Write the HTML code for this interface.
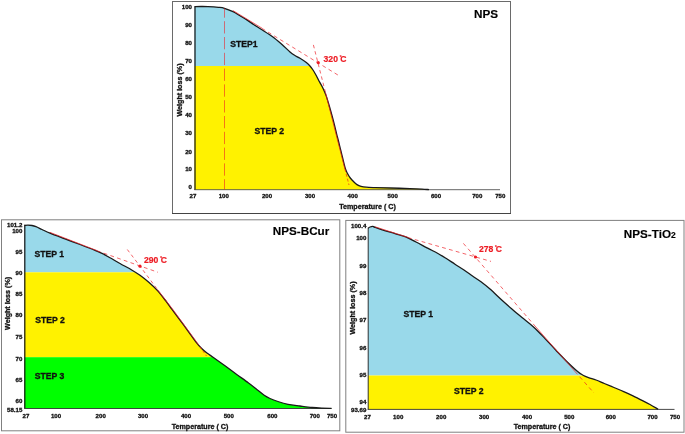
<!DOCTYPE html><html><head><meta charset="utf-8"><title>TGA</title>
<style>html,body{margin:0;padding:0;background:#fff}svg{display:block}text{font-family:"Liberation Sans",sans-serif;font-weight:bold;fill:#111;stroke:#111;stroke-width:.3px}.t{font-size:6.1px}.s{font-size:8.65px}.h{font-size:11.7px;fill:#000;stroke-width:.15px}.a{font-size:7.15px}.r{font-size:8.6px;fill:#ed1c24;stroke:#ed1c24;stroke-width:.2px}.e{text-anchor:end}.m{text-anchor:middle}</style></head><body>
<svg width="685" height="434" viewBox="0 0 685 434">
<rect width="685" height="434" fill="#fff"/>
<g fill="#fff" stroke="#808080" stroke-width="1">
<rect x="1.5" y="219.8" width="338.3" height="211"/>
<rect x="345.8" y="220.4" width="338.2" height="211.8"/>
<rect x="172.5" y="1.5" width="338" height="212" stroke="#6a6a6a"/>
</g>
<path d="M172,213.5H511" stroke="#444" stroke-width="1" fill="none"/>
<defs>
<clipPath id="k1"><path d="M194.50,6.60 C195.58,6.58 198.75,6.50 201.00,6.50 C203.25,6.50 205.10,6.47 208.00,6.60 C210.90,6.73 215.65,7.02 218.40,7.30 C221.15,7.58 222.07,7.57 224.50,8.30 C226.93,9.03 230.42,10.45 233.00,11.70 C235.58,12.95 237.57,14.35 240.00,15.80 C242.43,17.25 245.27,18.90 247.60,20.40 C249.93,21.90 251.60,23.23 254.00,24.80 C256.40,26.37 258.90,27.82 262.00,29.80 C265.10,31.78 269.27,34.25 272.60,36.70 C275.93,39.15 279.10,41.97 282.00,44.50 C284.90,47.03 287.90,50.10 290.00,51.90 C292.10,53.70 292.93,54.23 294.60,55.30 C296.27,56.37 298.10,57.13 300.00,58.30 C301.90,59.47 304.42,61.10 306.00,62.30 C307.58,63.50 308.33,64.22 309.50,65.50 C310.67,66.78 311.83,68.25 313.00,70.00 C314.17,71.75 315.58,74.33 316.50,76.00 C317.42,77.67 317.50,78.12 318.50,80.00 C319.50,81.88 321.22,84.65 322.50,87.30 C323.78,89.95 325.07,92.78 326.20,95.90 C327.33,99.02 328.15,102.03 329.30,106.00 C330.45,109.97 331.88,115.07 333.10,119.70 C334.32,124.33 335.75,130.42 336.60,133.80 C337.45,137.18 337.68,137.93 338.20,140.00 C338.72,142.07 339.17,144.07 339.70,146.20 C340.23,148.33 340.52,149.27 341.40,152.80 C342.28,156.33 343.98,163.95 345.00,167.40 C346.02,170.85 346.62,171.73 347.50,173.50 C348.38,175.27 349.22,176.58 350.30,178.00 C351.38,179.42 352.88,180.90 354.00,182.00 C355.12,183.10 355.83,183.88 357.00,184.60 C358.17,185.32 359.47,185.87 361.00,186.30 C362.53,186.73 363.87,186.98 366.20,187.20 C368.53,187.42 371.03,187.47 375.00,187.60 C378.97,187.73 384.17,187.83 390.00,188.00 C395.83,188.17 404.67,188.42 410.00,188.60 C415.33,188.78 418.83,188.93 422.00,189.10 C425.17,189.27 427.83,189.52 429.00,189.60 L429.00,190.00 L194.50,190.00 Z"/></clipPath>
<clipPath id="k2"><path d="M24.50,225.40 C25.08,225.37 26.75,225.18 28.00,225.20 C29.25,225.22 30.67,225.25 32.00,225.50 C33.33,225.75 34.33,226.03 36.00,226.70 C37.67,227.37 39.67,228.42 42.00,229.50 C44.33,230.58 46.17,231.63 50.00,233.20 C53.83,234.77 60.00,237.02 65.00,238.90 C70.00,240.78 75.00,242.60 80.00,244.50 C85.00,246.40 91.33,248.82 95.00,250.30 C98.67,251.78 99.50,252.17 102.00,253.40 C104.50,254.63 107.00,256.02 110.00,257.70 C113.00,259.38 116.32,261.42 120.00,263.50 C123.68,265.58 128.77,268.23 132.10,270.20 C135.43,272.17 137.22,273.28 140.00,275.30 C142.78,277.32 145.88,279.75 148.80,282.30 C151.72,284.85 154.58,287.38 157.50,290.60 C160.42,293.82 163.88,298.47 166.30,301.60 C168.72,304.73 169.22,305.63 172.00,309.40 C174.78,313.17 180.00,320.12 183.00,324.20 C186.00,328.28 187.87,330.97 190.00,333.90 C192.13,336.83 193.85,339.37 195.80,341.80 C197.75,344.23 199.83,346.63 201.70,348.50 C203.57,350.37 205.05,351.50 207.00,353.00 C208.95,354.50 210.40,355.37 213.40,357.50 C216.40,359.63 221.12,362.98 225.00,365.80 C228.88,368.62 232.78,371.55 236.70,374.40 C240.62,377.25 245.28,380.50 248.50,382.90 C251.72,385.30 253.38,386.73 256.00,388.80 C258.62,390.87 261.87,393.68 264.20,395.30 C266.53,396.92 267.72,397.47 270.00,398.50 C272.28,399.53 274.90,400.53 277.90,401.50 C280.90,402.47 284.32,403.55 288.00,404.30 C291.68,405.05 296.00,405.47 300.00,406.00 C304.00,406.53 308.33,407.15 312.00,407.50 C315.67,407.85 318.75,407.97 322.00,408.10 C325.25,408.23 329.92,408.27 331.50,408.30 L331.50,408.40 L24.50,408.40 Z"/></clipPath>
<clipPath id="k3"><path d="M368.00,228.20 C368.33,228.00 369.20,227.30 370.00,227.00 C370.80,226.70 371.97,226.35 372.80,226.40 C373.63,226.45 373.17,226.65 375.00,227.30 C376.83,227.95 380.47,229.25 383.80,230.30 C387.13,231.35 391.35,232.50 395.00,233.60 C398.65,234.70 402.20,235.50 405.70,236.90 C409.20,238.30 412.35,240.12 416.00,242.00 C419.65,243.88 424.02,246.33 427.60,248.20 C431.18,250.07 434.43,251.52 437.50,253.20 C440.57,254.88 443.08,256.47 446.00,258.30 C448.92,260.13 452.00,262.25 455.00,264.20 C458.00,266.15 461.08,268.03 464.00,270.00 C466.92,271.97 469.67,274.03 472.50,276.00 C475.33,277.97 478.08,279.62 481.00,281.80 C483.92,283.98 486.45,285.98 490.00,289.10 C493.55,292.22 498.65,297.18 502.30,300.50 C505.95,303.82 508.62,306.17 511.90,309.00 C515.18,311.83 518.35,314.47 522.00,317.50 C525.65,320.53 529.97,323.68 533.80,327.20 C537.63,330.72 541.35,334.80 545.00,338.60 C548.65,342.40 552.20,346.32 555.70,350.00 C559.20,353.68 562.35,357.12 566.00,360.70 C569.65,364.28 574.77,369.08 577.60,371.50 C580.43,373.92 581.18,374.18 583.00,375.20 C584.82,376.22 586.33,376.80 588.50,377.60 C590.67,378.40 593.37,379.02 596.00,380.00 C598.63,380.98 601.30,382.25 604.30,383.50 C607.30,384.75 610.77,386.15 614.00,387.50 C617.23,388.85 620.53,390.22 623.70,391.60 C626.87,392.98 629.78,394.27 633.00,395.80 C636.22,397.33 640.17,399.35 643.00,400.80 C645.83,402.25 647.48,403.10 650.00,404.50 C652.52,405.90 656.75,408.42 658.10,409.20 L658.10,409.60 L368.00,409.60 Z"/></clipPath>
</defs>
<g clip-path="url(#k1)"><rect x="190" y="0" width="320" height="66" fill="#99d9ea"/><rect x="190" y="66" width="320" height="130" fill="#fff200"/></g>
<g clip-path="url(#k2)"><rect x="20" y="220" width="320" height="52.3" fill="#99d9ea"/><rect x="20" y="272.3" width="320" height="85" fill="#fff200"/><rect x="20" y="357.2" width="320" height="60" fill="#00ff00"/></g>
<g clip-path="url(#k3)"><rect x="360" y="220" width="320" height="155.5" fill="#99d9ea"/><rect x="360" y="375.5" width="320" height="40" fill="#fff200"/></g>
<g stroke="#111" stroke-width="1.2" fill="none">
<path d="M195,6.6V190"/>
<path d="M24.8,224.8V408.4"/>
<path d="M368.2,228V409.6" stroke="#333" stroke-width="1"/>
</g>
<g stroke="#333" stroke-width="0.9" fill="none">
<path d="M194.4,189.7H500" stroke="#555" stroke-width="0.9"/>
<path d="M24.2,408.5H331.5"/>
<path d="M367.7,409.4H674.5"/>
</g>
<g stroke="#1a1a1a" stroke-width="1.3" fill="none" stroke-linejoin="round">
<path d="M194.50,6.60 C195.58,6.58 198.75,6.50 201.00,6.50 C203.25,6.50 205.10,6.47 208.00,6.60 C210.90,6.73 215.65,7.02 218.40,7.30 C221.15,7.58 222.07,7.57 224.50,8.30 C226.93,9.03 230.42,10.45 233.00,11.70 C235.58,12.95 237.57,14.35 240.00,15.80 C242.43,17.25 245.27,18.90 247.60,20.40 C249.93,21.90 251.60,23.23 254.00,24.80 C256.40,26.37 258.90,27.82 262.00,29.80 C265.10,31.78 269.27,34.25 272.60,36.70 C275.93,39.15 279.10,41.97 282.00,44.50 C284.90,47.03 287.90,50.10 290.00,51.90 C292.10,53.70 292.93,54.23 294.60,55.30 C296.27,56.37 298.10,57.13 300.00,58.30 C301.90,59.47 304.42,61.10 306.00,62.30 C307.58,63.50 308.33,64.22 309.50,65.50 C310.67,66.78 311.83,68.25 313.00,70.00 C314.17,71.75 315.58,74.33 316.50,76.00 C317.42,77.67 317.50,78.12 318.50,80.00 C319.50,81.88 321.22,84.65 322.50,87.30 C323.78,89.95 325.07,92.78 326.20,95.90 C327.33,99.02 328.15,102.03 329.30,106.00 C330.45,109.97 331.88,115.07 333.10,119.70 C334.32,124.33 335.75,130.42 336.60,133.80 C337.45,137.18 337.68,137.93 338.20,140.00 C338.72,142.07 339.17,144.07 339.70,146.20 C340.23,148.33 340.52,149.27 341.40,152.80 C342.28,156.33 343.98,163.95 345.00,167.40 C346.02,170.85 346.62,171.73 347.50,173.50 C348.38,175.27 349.22,176.58 350.30,178.00 C351.38,179.42 352.88,180.90 354.00,182.00 C355.12,183.10 355.83,183.88 357.00,184.60 C358.17,185.32 359.47,185.87 361.00,186.30 C362.53,186.73 363.87,186.98 366.20,187.20 C368.53,187.42 371.03,187.47 375.00,187.60 C378.97,187.73 384.17,187.83 390.00,188.00 C395.83,188.17 404.67,188.42 410.00,188.60 C415.33,188.78 418.83,188.93 422.00,189.10 C425.17,189.27 427.83,189.52 429.00,189.60"/>
<path d="M24.50,225.40 C25.08,225.37 26.75,225.18 28.00,225.20 C29.25,225.22 30.67,225.25 32.00,225.50 C33.33,225.75 34.33,226.03 36.00,226.70 C37.67,227.37 39.67,228.42 42.00,229.50 C44.33,230.58 46.17,231.63 50.00,233.20 C53.83,234.77 60.00,237.02 65.00,238.90 C70.00,240.78 75.00,242.60 80.00,244.50 C85.00,246.40 91.33,248.82 95.00,250.30 C98.67,251.78 99.50,252.17 102.00,253.40 C104.50,254.63 107.00,256.02 110.00,257.70 C113.00,259.38 116.32,261.42 120.00,263.50 C123.68,265.58 128.77,268.23 132.10,270.20 C135.43,272.17 137.22,273.28 140.00,275.30 C142.78,277.32 145.88,279.75 148.80,282.30 C151.72,284.85 154.58,287.38 157.50,290.60 C160.42,293.82 163.88,298.47 166.30,301.60 C168.72,304.73 169.22,305.63 172.00,309.40 C174.78,313.17 180.00,320.12 183.00,324.20 C186.00,328.28 187.87,330.97 190.00,333.90 C192.13,336.83 193.85,339.37 195.80,341.80 C197.75,344.23 199.83,346.63 201.70,348.50 C203.57,350.37 205.05,351.50 207.00,353.00 C208.95,354.50 210.40,355.37 213.40,357.50 C216.40,359.63 221.12,362.98 225.00,365.80 C228.88,368.62 232.78,371.55 236.70,374.40 C240.62,377.25 245.28,380.50 248.50,382.90 C251.72,385.30 253.38,386.73 256.00,388.80 C258.62,390.87 261.87,393.68 264.20,395.30 C266.53,396.92 267.72,397.47 270.00,398.50 C272.28,399.53 274.90,400.53 277.90,401.50 C280.90,402.47 284.32,403.55 288.00,404.30 C291.68,405.05 296.00,405.47 300.00,406.00 C304.00,406.53 308.33,407.15 312.00,407.50 C315.67,407.85 318.75,407.97 322.00,408.10 C325.25,408.23 329.92,408.27 331.50,408.30"/>
<path d="M368.00,228.20 C368.33,228.00 369.20,227.30 370.00,227.00 C370.80,226.70 371.97,226.35 372.80,226.40 C373.63,226.45 373.17,226.65 375.00,227.30 C376.83,227.95 380.47,229.25 383.80,230.30 C387.13,231.35 391.35,232.50 395.00,233.60 C398.65,234.70 402.20,235.50 405.70,236.90 C409.20,238.30 412.35,240.12 416.00,242.00 C419.65,243.88 424.02,246.33 427.60,248.20 C431.18,250.07 434.43,251.52 437.50,253.20 C440.57,254.88 443.08,256.47 446.00,258.30 C448.92,260.13 452.00,262.25 455.00,264.20 C458.00,266.15 461.08,268.03 464.00,270.00 C466.92,271.97 469.67,274.03 472.50,276.00 C475.33,277.97 478.08,279.62 481.00,281.80 C483.92,283.98 486.45,285.98 490.00,289.10 C493.55,292.22 498.65,297.18 502.30,300.50 C505.95,303.82 508.62,306.17 511.90,309.00 C515.18,311.83 518.35,314.47 522.00,317.50 C525.65,320.53 529.97,323.68 533.80,327.20 C537.63,330.72 541.35,334.80 545.00,338.60 C548.65,342.40 552.20,346.32 555.70,350.00 C559.20,353.68 562.35,357.12 566.00,360.70 C569.65,364.28 574.77,369.08 577.60,371.50 C580.43,373.92 581.18,374.18 583.00,375.20 C584.82,376.22 586.33,376.80 588.50,377.60 C590.67,378.40 593.37,379.02 596.00,380.00 C598.63,380.98 601.30,382.25 604.30,383.50 C607.30,384.75 610.77,386.15 614.00,387.50 C617.23,388.85 620.53,390.22 623.70,391.60 C626.87,392.98 629.78,394.27 633.00,395.80 C636.22,397.33 640.17,399.35 643.00,400.80 C645.83,402.25 647.48,403.10 650.00,404.50 C652.52,405.90 656.75,408.42 658.10,409.20"/>
</g>
<g stroke="#ed1c24" stroke-width="0.68" fill="none">
<path d="M224.5,8.4V189.5" stroke-dasharray="12.3 3.5" stroke-dashoffset="3" opacity="0.85"/>
<path d="M233,10.6L262,28.2" stroke-width="0.7"/>
<path d="M262,28.4L339.5,76" stroke-dasharray="3.8 3.3"/>
<path d="M313.4,44.9L325.6,93" stroke-dasharray="3.5 3"/>
<path d="M325.6,93L344.9,169" stroke-width="0.7"/>
<path d="M344.9,169L349,185" stroke-dasharray="3 2"/>
<path d="M50,232.4L97,250.6" stroke-width="0.7"/>
<path d="M97,250.8L158,272.3" stroke-dasharray="3.8 3.3"/>
<path d="M127.3,249.5L140,266.2L157.5,289.5" stroke-dasharray="3.5 3"/>
<path d="M157.5,289.5L172.5,309L197,342.5" stroke-width="0.7"/>
<path d="M197,342.5L206.5,356" stroke-dasharray="3 2"/>
<path d="M375,226.8L408,237.4" stroke-width="0.7"/>
<path d="M408,237.6L491,261.4" stroke-dasharray="3.8 3.3"/>
<path d="M463.4,243.4L535,326" stroke-dasharray="3.8 3.3"/>
<path d="M535,326L575,371.5" stroke-width="0.7"/>
<path d="M575,371.5L594,393" stroke-dasharray="3.8 3.3"/>
</g>
<g fill="#ed1c24"><circle cx="318.2" cy="62.6" r="1.6"/><circle cx="140" cy="266.2" r="1.6"/><circle cx="475.5" cy="257" r="1.6"/></g>
<text class="t e" x="192.0" y="8.6">100</text>
<text class="t e" x="192.0" y="26.7">90</text>
<text class="t e" x="192.0" y="44.8">80</text>
<text class="t e" x="192.0" y="62.8">70</text>
<text class="t e" x="192.0" y="80.9">60</text>
<text class="t e" x="192.0" y="98.9">50</text>
<text class="t e" x="192.0" y="117.0">40</text>
<text class="t e" x="192.0" y="135.0">30</text>
<text class="t e" x="192.0" y="153.5">20</text>
<text class="t e" x="192.0" y="171.3">10</text>
<text class="t e" x="192.0" y="189.2">0</text>
<text class="t m" x="193.0" y="198.1">27</text>
<text class="t m" x="223.8" y="198.1">100</text>
<text class="t m" x="267.0" y="198.1">200</text>
<text class="t m" x="310.0" y="198.1">300</text>
<text class="t m" x="352.7" y="198.1">400</text>
<text class="t m" x="392.7" y="198.1">500</text>
<text class="t m" x="436.0" y="198.1">600</text>
<text class="t m" x="477.3" y="198.1">700</text>
<text class="t m" x="500.3" y="198.1">750</text>
<text class="t e" x="22.3" y="227.0">101.2</text>
<text class="t e" x="22.3" y="233.1">100</text>
<text class="t e" x="22.3" y="254.0">95</text>
<text class="t e" x="22.3" y="274.9">90</text>
<text class="t e" x="22.3" y="296.0">85</text>
<text class="t e" x="22.3" y="317.0">80</text>
<text class="t e" x="22.3" y="339.0">75</text>
<text class="t e" x="22.3" y="360.6">70</text>
<text class="t e" x="22.3" y="382.0">65</text>
<text class="t e" x="22.3" y="403.0">60</text>
<text class="t e" x="22.3" y="412.0">58.15</text>
<text class="t m" x="26.0" y="417.6">27</text>
<text class="t m" x="56.0" y="417.6">100</text>
<text class="t m" x="100.7" y="417.6">200</text>
<text class="t m" x="143.0" y="417.6">300</text>
<text class="t m" x="186.0" y="417.6">400</text>
<text class="t m" x="228.8" y="417.6">500</text>
<text class="t m" x="272.4" y="417.6">600</text>
<text class="t m" x="314.8" y="417.6">700</text>
<text class="t m" x="332.0" y="417.6">750</text>
<text class="t e" x="366.3" y="228.4">100.4</text>
<text class="t e" x="366.3" y="239.6">100</text>
<text class="t e" x="366.3" y="267.7">99</text>
<text class="t e" x="366.3" y="294.5">98</text>
<text class="t e" x="366.3" y="322.0">97</text>
<text class="t e" x="366.3" y="349.5">96</text>
<text class="t e" x="366.3" y="376.6">95</text>
<text class="t e" x="366.3" y="403.8">94</text>
<text class="t e" x="366.3" y="412.3">93.69</text>
<text class="t m" x="367.5" y="418.6">27</text>
<text class="t m" x="398.2" y="418.6">100</text>
<text class="t m" x="441.2" y="418.6">200</text>
<text class="t m" x="484.1" y="418.6">300</text>
<text class="t m" x="527.0" y="418.6">400</text>
<text class="t m" x="569.3" y="418.6">500</text>
<text class="t m" x="610.8" y="418.6">600</text>
<text class="t m" x="652.5" y="418.6">700</text>
<text class="t m" x="675.0" y="418.6">750</text>
<text class="h" x="474" y="18">NPS</text>
<text class="h" x="272.8" y="235.4">NPS-BCur</text>
<text class="h" x="623.8" y="238">NPS-TiO<tspan font-size="8.5px">2</tspan></text>
<text class="s" x="230.3" y="46.8">STEP1</text>
<text class="s" x="254.5" y="133.5">STEP 2</text>
<text class="a m" x="367.5" y="209">Temperature ( C)</text>
<text class="a m" transform="translate(181.8,90) rotate(-90)">Weight loss (%)</text>
<text class="r" x="323.6" y="62">320 C</text><text class="r" style="font-size:5.5px" x="339.4" y="58.6">°</text>
<text class="s" x="34.5" y="256.8">STEP 1</text>
<text class="s" x="35.3" y="322.8">STEP 2</text>
<text class="s" x="34.7" y="379">STEP 3</text>
<text class="a m" x="200" y="428.5">Temperature ( C)</text>
<text class="a m" transform="translate(10.4,303.4) rotate(-90)">Weight loss (%)</text>
<text class="r" x="144" y="263.2">290 C</text><text class="r" style="font-size:5.5px" x="159.9" y="259.6">°</text>
<text class="s" x="403.6" y="317.2">STEP 1</text>
<text class="s" x="454" y="393.6">STEP 2</text>
<text class="a m" x="542" y="428.8">Temperature ( C)</text>
<text class="a m" transform="translate(355,308) rotate(-90)">Weight loss (%)</text>
<text class="r" x="479" y="252.4">278 C</text><text class="r" style="font-size:5.5px" x="494.8" y="248.9">°</text>
</svg></body></html>
